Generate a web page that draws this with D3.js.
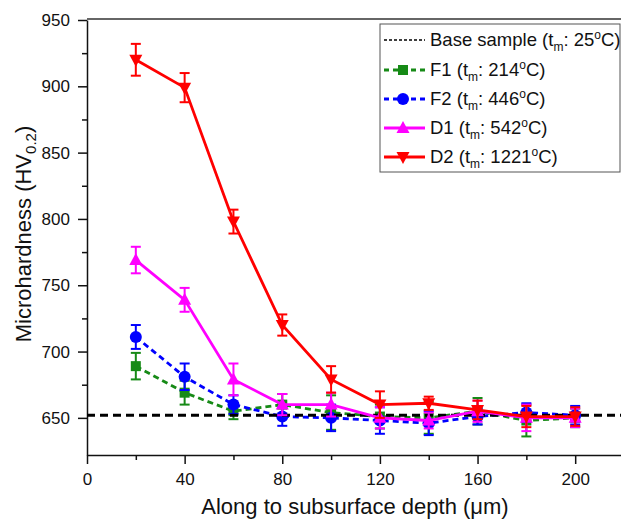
<!DOCTYPE html>
<html>
<head>
<meta charset="utf-8">
<script src="https://cdn.jsdelivr.net/npm/d3@7"></script>
<style>
  body { margin: 0; background: #fff; }
  svg { display: block; font-family: "Liberation Sans", Arial, sans-serif; }
</style>
</head>
<body>
<svg id="chart" width="621" height="524"></svg>
<script>
// depth positions (um)
const depths = [20, 40, 60, 80, 100, 120, 140, 160, 180, 200];
const baseValue = 652;

const f1Values = [689, 669, 655, 660, 654, 651, 650, 655, 648, 650];
const f1Errors = [10, 9, 6, 8, 13, 9, 12, 10, 12, 7];
const f2Values = [711, 681, 660, 651, 650, 648, 646, 651, 654, 652];
const f2Errors = [9, 10, 7, 7, 10, 10, 9, 6, 7, 7];
const d1Values = [769, 739, 679, 660, 660, 650, 648, 655, 650, 650];
const d1Errors = [10, 9, 12, 8, 9, 8, 6, 8, 10, 7];
const d2Values = [920, 899, 798, 720, 679, 660, 661, 656, 651, 651];
const d2Errors = [12, 11, 9, 8, 10, 10, 5, 7, 8, 7];

const xTicks = [0, 40, 80, 120, 160, 200];
const yTicks = [650, 700, 750, 800, 850, 900, 950];

const series = [
    { key: 'F1', temp: '214', values: f1Values, errors: f1Errors, color: '#168a16', dash: '6,4', marker: 'square' },
    { key: 'F2', temp: '446', values: f2Values, errors: f2Errors, color: '#0000ff', dash: '6,4', marker: 'circle' },
    { key: 'D1', temp: '542', values: d1Values, errors: d1Errors, color: '#ff00ff', dash: null, marker: 'up' },
    { key: 'D2', temp: '1221', values: d2Values, errors: d2Errors, color: '#ff0000', dash: null, marker: 'down' }
];

const svg = d3.select('#chart');
const plotLeft = 87, plotTop = 20, plotBottom = 455, plotRight = 624;

const x = d3.scaleLinear().domain([0, 220]).range([plotLeft, plotRight]);
const y = d3.scaleLinear().domain([622, 950]).range([plotBottom, plotTop]);

// frame (top line) and axes
svg.append('line')
    .attr('x1', plotLeft).attr('x2', 621)
    .attr('y1', y(950) - 1).attr('y2', y(950) - 1)
    .attr('stroke', '#333').attr('stroke-width', 1.5);

const xAxis = svg.append('g')
    .attr('transform', `translate(0,${plotBottom})`)
    .call(d3.axisBottom(x).tickValues(xTicks).tickSize(9).tickSizeOuter(0));
svg.append('g')
    .attr('transform', `translate(0,${plotBottom})`)
    .call(d3.axisBottom(x).tickValues([20, 60, 100, 140, 180, 220]).tickSize(5).tickFormat(''))
    .select('.domain').remove();

const yAxis = svg.append('g')
    .attr('transform', `translate(${plotLeft},0)`)
    .call(d3.axisLeft(y).tickValues(yTicks).tickSize(9).tickSizeOuter(0));
svg.append('g')
    .attr('transform', `translate(${plotLeft},0)`)
    .call(d3.axisLeft(y).tickValues([675, 725, 775, 825, 875, 925]).tickSize(5).tickFormat(''))
    .select('.domain').remove();

svg.selectAll('.domain').attr('stroke', '#111').attr('stroke-width', 1.5);
svg.selectAll('.tick line').attr('stroke', '#111').attr('stroke-width', 1.5);
xAxis.selectAll('.tick text').attr('font-size', 17).attr('fill', '#111').attr('dy', '1.05em');
yAxis.selectAll('.tick text').attr('font-size', 17).attr('fill', '#111').attr('dx', '-0.3em');

// axis titles
svg.append('text')
    .attr('x', 355).attr('y', 514)
    .attr('text-anchor', 'middle')
    .attr('font-size', 22).attr('fill', '#111')
    .text('Along to subsurface depth (\u03bcm)');

const yt = svg.append('text')
    .attr('transform', 'translate(31,234) rotate(-90)')
    .attr('text-anchor', 'middle')
    .attr('font-size', 22).attr('fill', '#111');
yt.append('tspan').text('Microhardness (HV');
yt.append('tspan').attr('font-size', 15).attr('dy', 5).text('0.2');
yt.append('tspan').attr('dy', -5).text(')');

const plot = svg.append('g');

function drawMarker(g, type, color) {
    if (type === 'square') {
        g.append('rect').attr('x', -5).attr('y', -5).attr('width', 10).attr('height', 10).attr('fill', color);
    } else if (type === 'circle') {
        g.append('circle').attr('r', 6).attr('fill', color);
    } else if (type === 'up') {
        g.append('path').attr('d', 'M0,-7L6.5,5L-6.5,5Z').attr('fill', color);
    } else {
        g.append('path').attr('d', 'M0,7L6.5,-5L-6.5,-5Z').attr('fill', color);
    }
}

const line = d3.line().x(d => x(d.x)).y(d => y(d.v));

function drawSeries(s) {
    const pts = depths.map((d, i) => ({ x: d, v: s.values[i], e: s.errors[i] }));
    const g = plot.append('g');
    g.append('path')
        .datum(pts)
        .attr('d', line)
        .attr('fill', 'none')
        .attr('stroke', s.color)
        .attr('stroke-width', 2.8)
        .attr('stroke-dasharray', s.dash);
    const eb = g.selectAll('.eb').data(pts).enter().append('g')
        .attr('stroke', s.color).attr('stroke-width', 2);
    eb.append('line')
        .attr('x1', d => x(d.x)).attr('x2', d => x(d.x))
        .attr('y1', d => y(d.v - d.e)).attr('y2', d => y(d.v + d.e));
    eb.append('line')
        .attr('x1', d => x(d.x) - 5).attr('x2', d => x(d.x) + 5)
        .attr('y1', d => y(d.v + d.e)).attr('y2', d => y(d.v + d.e));
    eb.append('line')
        .attr('x1', d => x(d.x) - 5).attr('x2', d => x(d.x) + 5)
        .attr('y1', d => y(d.v - d.e)).attr('y2', d => y(d.v - d.e));
    g.selectAll('.mk').data(pts).enter().append('g')
        .attr('transform', d => `translate(${x(d.x)},${y(d.v)})`)
        .each(function() { drawMarker(d3.select(this), s.marker, s.color); });
}

drawSeries(series[0]);
drawSeries(series[1]);

// base sample line
plot.append('line')
    .attr('x1', x(0)).attr('x2', 621)
    .attr('y1', y(baseValue)).attr('y2', y(baseValue))
    .attr('stroke', '#000').attr('stroke-width', 3)
    .attr('stroke-dasharray', '8,5');

drawSeries(series[2]);
drawSeries(series[3]);

// legend
const lg = svg.append('g');
lg.append('rect')
    .attr('x', 380).attr('y', 24).attr('width', 240).attr('height', 148)
    .attr('fill', '#fff').attr('stroke', '#555').attr('stroke-width', 1);

const rowY = [40, 70, 99, 128, 157];
lg.append('line')
    .attr('x1', 384).attr('x2', 425).attr('y1', rowY[0]).attr('y2', rowY[0])
    .attr('stroke', '#000').attr('stroke-width', 1.5).attr('stroke-dasharray', '3,2');

function legendLabel(yPos, xPos, name, temp) {
    const t = lg.append('text').attr('x', xPos).attr('y', yPos + 6)
        .attr('font-size', 18.5).attr('fill', '#111');
    t.append('tspan').text(name + ' (t');
    t.append('tspan').attr('font-size', 12).attr('dy', 5).text('m');
    t.append('tspan').attr('dy', -5).text(': ' + temp);
    t.append('tspan').attr('font-size', 12).attr('dy', -7).text('o');
    t.append('tspan').attr('dy', 7).text('C)');
}
legendLabel(rowY[0], 430, 'Base sample', '25');

series.forEach((s, i) => {
    const yy = rowY[i + 1];
    lg.append('line')
        .attr('x1', 384).attr('x2', 425).attr('y1', yy).attr('y2', yy)
        .attr('stroke', s.color).attr('stroke-width', 2.8)
        .attr('stroke-dasharray', s.dash ? '5,4' : null);
    const m = lg.append('g').attr('transform', `translate(403,${yy})`);
    drawMarker(m, s.marker, s.color);
    legendLabel(yy, 430, s.key, s.temp);
});
</script>
</body>
</html>
